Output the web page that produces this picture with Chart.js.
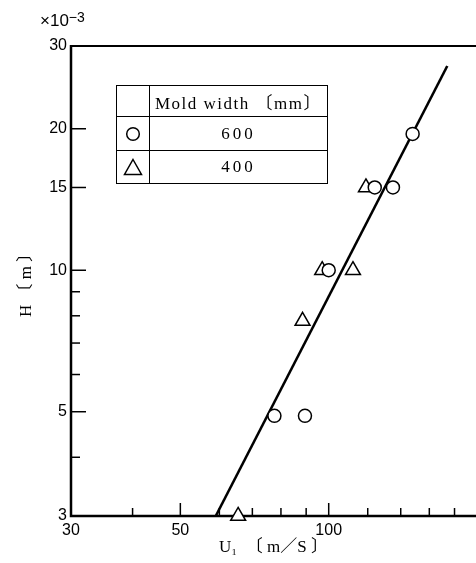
<!DOCTYPE html>
<html><head><meta charset="utf-8">
<script src="https://cdn.jsdelivr.net/npm/chart.js@4/dist/chart.umd.min.js"></script>
<style>
html,body{margin:0;padding:0;background:#fff;overflow:hidden;}
#wrap{position:relative;width:476px;height:563px;}
canvas{position:absolute;left:0;top:0;}
#exp{position:absolute;left:40px;top:11px;font:17px "Liberation Sans",Arial,sans-serif;color:#000;line-height:20px;}
#exp sup{font-size:14px;position:relative;top:-4px;vertical-align:baseline;}
#leg{position:absolute;left:116px;top:85px;border-collapse:collapse;border:1.5px solid #000;table-layout:fixed;width:212px;}
#leg td{border:1.5px solid #000;padding:0;text-align:center;vertical-align:middle;color:#000;white-space:nowrap;overflow:hidden;
  font-family:"Liberation Serif","Noto Sans CJK JP",serif;}
#leg td.s{width:32px;}
#leg td.h{font-size:17px;letter-spacing:1.5px;}
#leg td.v{font-size:17px;letter-spacing:3px;}
#leg svg{display:block;margin:0 auto;}
</style></head><body>
<div id="wrap">
<canvas id="c" width="476" height="563"></canvas>
<div id="exp">×10<sup>−3</sup></div>
<table id="leg"></table>
</div>
<script>
// data (H in units of 1e-3 m)
const circleU = [148, 124, 135, 100, 77.6, 89.5];
const circleH = [19.5, 15, 15, 10, 4.9, 4.9];
const triangleU = [119, 97, 112, 88.5, 65.5];
const triangleH = [15, 10, 10, 7.8, 3];
const fitU = [59, 174];
const fitH = [3, 27.2];
const xMajorTicks = [30, 50, 100];
const xMinorTicks = [40, 60, 70, 80, 90, 120, 140, 160, 180];
const yMajorTicks = [3, 5, 10, 15, 20, 30];
const yMinorTicks = [4, 6, 7, 8, 9];
const legendHeader = 'Mold width 〔mm〕';
const legendLabels = ['600', '400'];
const legendSymbols = ['circle', 'triangle'];

// legend table
const leg = document.getElementById('leg');
const symSvg = {
  circle: '<svg width="16" height="16"><circle cx="8" cy="8" r="6.3" fill="#fff" stroke="#000" stroke-width="1.5"/></svg>',
  triangle: '<svg width="20" height="18"><polygon points="10,1.5 18.5,16.5 1.5,16.5" fill="#fff" stroke="#000" stroke-width="1.5"/></svg>'
};
let html = '<tr style="height:31px"><td class="s"></td><td class="h">' + legendHeader + '</td></tr>';
const rowH = [34, 33];
legendLabels.forEach((l, i) => {
  html += '<tr style="height:' + rowH[i] + 'px"><td class="s">' + symSvg[legendSymbols[i]] + '</td><td class="v">' + l + '</td></tr>';
});
leg.innerHTML = html;

const toPts = (xs, ys) => xs.map((x, i) => ({x: x, y: ys[i]}));

const framePlugin = {
  id: 'frame',
  beforeDatasetsDraw(chart) {
    const {ctx, chartArea: a, scales: {x, y}} = chart;
    ctx.save();
    ctx.strokeStyle = '#000';
    ctx.lineCap = 'butt';
    ctx.lineWidth = 1.5;
    const tick = (px, py, dx, dy) => { ctx.beginPath(); ctx.moveTo(px, py); ctx.lineTo(px + dx, py + dy); ctx.stroke(); };
    xMajorTicks.forEach(v => { const p = x.getPixelForValue(v); tick(p, a.bottom, 0, -13); });
    xMinorTicks.forEach(v => { const p = x.getPixelForValue(v); tick(p, a.bottom, 0, -8); });
    yMajorTicks.forEach(v => { const p = y.getPixelForValue(v); tick(a.left, p, 15, 0); });
    yMinorTicks.forEach(v => { const p = y.getPixelForValue(v); tick(a.left, p, 9, 0); });
    ctx.lineWidth = 2.5;
    ctx.beginPath();
    ctx.moveTo(a.left, a.top - 1);
    ctx.lineTo(a.left, a.bottom);
    ctx.lineTo(a.right, a.bottom);
    ctx.stroke();
    ctx.lineWidth = 2;
    ctx.beginPath();
    ctx.moveTo(a.left - 1, a.top);
    ctx.lineTo(a.right, a.top);
    ctx.stroke();
    ctx.restore();
  }
};

new Chart(document.getElementById('c'), {
  type: 'scatter',
  data: {
    datasets: [
      {
        label: '600',
        data: toPts(circleU, circleH),
        pointStyle: 'circle',
        pointRadius: 6.5,
        pointBorderWidth: 1.5,
        pointBorderColor: '#000',
        pointBackgroundColor: '#fff',
        showLine: false,
        clip: false,
        order: 0
      },
      {
        label: '400',
        data: toPts(triangleU, triangleH),
        pointStyle: 'triangle',
        pointRadius: 8.6,
        pointBorderWidth: 1.5,
        pointBorderColor: '#000',
        pointBackgroundColor: '#fff',
        showLine: false,
        clip: false,
        order: 1
      },
      {
        label: 'fit',
        data: toPts(fitU, fitH),
        showLine: true,
        borderColor: '#000',
        borderWidth: 2.6,
        pointRadius: 0,
        fill: false,
        clip: false,
        order: 2
      }
    ]
  },
  options: {
    responsive: false,
    animation: false,
    devicePixelRatio: 1,
    layout: {autoPadding: false, padding: {top: 46, right: 0, left: 0, bottom: 0}},
    plugins: {legend: {display: false}, tooltip: {enabled: false}},
    scales: {
      x: {
        type: 'logarithmic',
        position: 'bottom',
        min: 30,
        max: 199,
        grid: {display: false, drawTicks: false},
        border: {display: false},
        afterBuildTicks: s => { s.ticks = xMajorTicks.map(v => ({value: v})); },
        afterFit: s => { s.height = 47; s.paddingLeft = 0; s.paddingRight = 0; },
        ticks: {
          autoSkip: false, maxRotation: 0, padding: 5, color: '#000',
          font: {family: '"Liberation Sans", Arial, sans-serif', size: 16},
          callback: v => String(v)
        },
        title: {
          display: true, text: 'U₁  〔 m／S 〕', color: '#000',
          font: {family: '"Liberation Serif", "Noto Sans CJK JP", serif', size: 17},
          padding: {top: 0, bottom: 5}
        }
      },
      y: {
        type: 'logarithmic',
        position: 'left',
        min: 3,
        max: 30,
        grid: {display: false, drawTicks: false},
        border: {display: false},
        afterBuildTicks: s => { s.ticks = yMajorTicks.map(v => ({value: v})); },
        afterFit: s => { s.width = 71; s.paddingTop = 0; s.paddingBottom = 0; },
        ticks: {
          autoSkip: false, padding: 4, color: '#000',
          font: {family: '"Liberation Sans", Arial, sans-serif', size: 16},
          callback: v => String(v)
        },
        title: {
          display: true, text: 'H 〔 m 〕', color: '#000',
          font: {family: '"Liberation Serif", "Noto Sans CJK JP", serif', size: 17},
          padding: {top: 16, bottom: 0}
        }
      }
    }
  },
  plugins: [framePlugin]
});
</script>
</body></html>
